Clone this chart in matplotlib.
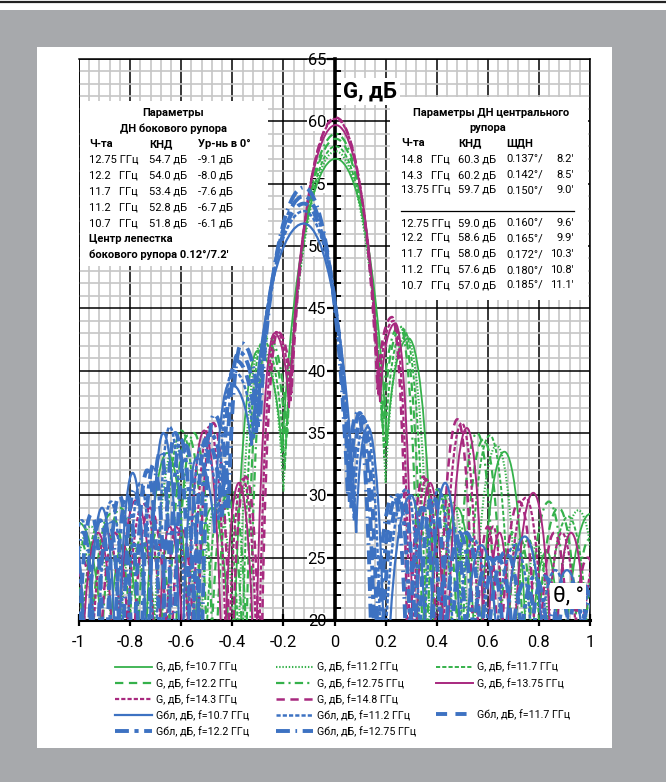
import matplotlib
matplotlib.use("Agg")
import matplotlib.pyplot as plt
from matplotlib.path import Path
from matplotlib.patches import PathPatch, Rectangle
from matplotlib.lines import Line2D
from matplotlib.ticker import MultipleLocator, FuncFormatter

plt.rcParams['font.family'] = ['Roboto', 'DejaVu Sans']
plt.rcParams['axes.unicode_minus'] = False
plt.rcParams['lines.scale_dashes'] = False

# turning points of every curve (null, lobe peak, null, ...), theta in deg, G in dB
# levels of 12 mean the null drops below the bottom of the chart
g107_t = [-1.1, -1.0, -0.89, -0.83, -0.75, -0.655, -0.56, -0.48, -0.40, -0.30, -0.205, 0.005,
          0.205, 0.29, 0.40, 0.48, 0.56, 0.665, 0.76, 0.83, 0.89, 1.0, 1.1]
g107_g = [12, 27.8, 12, 26, 12, 33.4, 12, 29, 12, 41.6, 33.4, 57.0,
          34, 42.6, 12, 29.0, 12, 33.5, 12, 25.5, 12, 28.5, 12]
g112_t = [-1.051, -0.955, -0.850, -0.793, -0.717, -0.626, -0.535, -0.459, -0.382, -0.29, -0.20, 0.005,
          0.20, 0.28, 0.382, 0.459, 0.535, 0.635, 0.726, 0.793, 0.850, 0.955, 1.051]
g112_g = [12, 27.5, 12, 26, 12, 34, 12, 29.5, 12, 42.0, 30.3, 57.6,
          31, 42.8, 12, 29.5, 12, 34.0, 12, 26, 12, 28.8, 12]
g117_t = [-1.006, -0.915, -0.814, -0.759, -0.686, -0.599, -0.512, -0.439, -0.366, -0.28, -0.195, 0.005,
          0.195, 0.27, 0.366, 0.439, 0.512, 0.608, 0.695, 0.759, 0.814, 0.915, 1.006]
g117_g = [12, 28, 12, 26.5, 12, 35.2, 12, 30, 12, 42.4, 32, 58.0,
          33, 43.3, 12, 30.0, 12, 34.8, 12, 26.5, 12, 28.3, 12]
g122_t = [-1.123, -1.044, -0.965, -0.877, -0.781, -0.728, -0.658, -0.574, -0.491, -0.421, -0.351, -0.27, -0.19, 0.005,
          0.19, 0.262, 0.351, 0.421, 0.491, 0.583, 0.667, 0.728, 0.781, 0.877, 0.965, 1.044, 1.123]
g122_g = [12, 26, 12, 28.5, 12, 26.5, 12, 34.8, 12, 30, 12, 42.6, 34, 58.6,
          35, 43.5, 12, 30.2, 12, 34.5, 12, 26.5, 12, 29, 12, 26.5, 12]
g1275_t = [-1.074, -0.999, -0.923, -0.839, -0.747, -0.697, -0.629, -0.550, -0.470, -0.403, -0.336, -0.262, -0.185, 0.005,
           0.185, 0.255, 0.336, 0.403, 0.470, 0.558, 0.638, 0.697, 0.747, 0.839, 0.923, 0.999, 1.074]
g1275_g = [12, 26.5, 12, 29, 12, 27, 12, 35, 12, 30.5, 12, 42.8, 35, 59.0,
           36, 43.6, 12, 30.5, 12, 35.0, 12, 27, 12, 29.5, 12, 26.5, 12]
g1375_t = [-1.136, -1.066, -0.996, -0.926, -0.856, -0.778, -0.693, -0.646, -0.584, -0.510, -0.436, -0.374, -0.311,
           -0.235, -0.178, 0.005, 0.178, 0.238, 0.311, 0.374, 0.436, 0.518, 0.591, 0.646, 0.693, 0.778, 0.856,
           0.926, 0.996, 1.066, 1.136]
g1375_g = [12, 25, 12, 27, 12, 29.6, 12, 27.5, 12, 35.2, 12, 31, 12,
           43.0, 37, 59.7, 37.5, 43.8, 12, 31, 12, 35.4, 12, 27, 12, 30.2, 12,
           27, 12, 25, 12]
g143_t = [-1.093, -1.025, -0.958, -0.890, -0.823, -0.748, -0.666, -0.621, -0.561, -0.490, -0.419, -0.359, -0.299,
          -0.228, -0.172, 0.005, 0.172, 0.231, 0.299, 0.359, 0.419, 0.498, 0.569, 0.621, 0.666, 0.748, 0.823,
          0.890, 0.958, 1.025, 1.093]
g143_g = [12, 25, 12, 27, 12, 29.3, 12, 27.5, 12, 35.5, 12, 31.3, 12,
          43.1, 37.5, 60.2, 38, 44.0, 12, 31.3, 12, 35.8, 12, 27.5, 12, 29.8, 12,
          27, 12, 25, 12]
g148_t = [-1.056, -0.991, -0.925, -0.860, -0.795, -0.723, -0.643, -0.600, -0.542, -0.474, -0.405, -0.347, -0.289,
          -0.222, -0.168, 0.005, 0.168, 0.225, 0.289, 0.347, 0.405, 0.481, 0.549, 0.600, 0.643, 0.723, 0.795,
          0.860, 0.925, 0.991, 1.056]
g148_g = [12, 25, 12, 27, 12, 29, 12, 27.5, 12, 35.8, 12, 31.5, 12,
          43.1, 38.2, 60.3, 38.5, 44.3, 12, 31.5, 12, 36.1, 12, 27.5, 12, 29.5, 12,
          27, 12, 25, 12]

# side horn (beam centre at -0.12 deg)
b107_t = [-1.09, -1.03, -0.97, -0.91, -0.85, -0.79, -0.73, -0.67, -0.60, -0.54, -0.47, -0.41, -0.325, -0.12,
          0.085, 0.13, 0.20, 0.30, 0.365, 0.433, 0.50, 0.575, 0.65, 0.745, 0.83, 0.91, 0.99, 1.07, 1.15]
b107_g = [12, 28.3, 12, 29, 12, 31.8, 12, 35, 12, 33, 27, 39, 34, 51.8,
          27, 35.5, 12, 30, 12, 31, 12, 26, 12, 26.7, 12, 24, 12, 23, 12]
b112_t = [-1.047, -0.989, -0.932, -0.875, -0.817, -0.760, -0.703, -0.645, -0.579, -0.521, -0.454, -0.397, -0.316, -0.12,
          0.076, 0.119, 0.186, 0.281, 0.343, 0.408, 0.472, 0.544, 0.616, 0.706, 0.788, 0.864, 0.940, 1.017, 1.093]
b112_g = [12, 28, 12, 29.5, 12, 31, 12, 35.5, 12, 34, 28, 40, 34.5, 52.8,
          28, 36, 12, 30.5, 12, 30.5, 12, 26.5, 12, 26, 12, 24, 12, 23, 12]
b117_t = [-1.007, -0.952, -0.897, -0.842, -0.788, -0.733, -0.678, -0.623, -0.559, -0.504, -0.440, -0.385, -0.307, -0.12,
          0.067, 0.109, 0.173, 0.264, 0.324, 0.386, 0.447, 0.516, 0.584, 0.671, 0.749, 0.822, 0.895, 0.968, 1.041]
b117_g = [12, 28.5, 12, 30, 12, 32, 12, 35, 12, 34.5, 28, 40.8, 35, 53.4,
          29, 36.3, 12, 30, 12, 30, 12, 27, 12, 25.5, 12, 23.5, 12, 23, 12]
b122_t = [-1.076, -1.023, -0.971, -0.918, -0.865, -0.813, -0.760, -0.708, -0.655, -0.602, -0.541, -0.488, -0.427,
          -0.374, -0.300, -0.12, 0.060, 0.099, 0.161, 0.248, 0.305, 0.365, 0.424, 0.490, 0.555, 0.639, 0.713,
          0.783, 0.853, 0.924, 0.994, 1.064, 1.134]
b122_g = [12, 26.5, 12, 28, 12, 30, 12, 32.5, 12, 34.5, 12, 35, 29,
          41.5, 35.5, 54.0, 29.5, 36.6, 12, 30, 12, 29.5, 12, 27, 12, 25, 12,
          23.5, 12, 23, 12, 22, 12]
b1275_t = [-1.035, -0.984, -0.934, -0.884, -0.833, -0.783, -0.733, -0.682, -0.632, -0.582, -0.523, -0.472, -0.414,
           -0.363, -0.292, -0.12, 0.052, 0.090, 0.149, 0.232, 0.287, 0.344, 0.400, 0.463, 0.526, 0.606, 0.677,
           0.744, 0.812, 0.879, 0.946, 1.013, 1.08]
b1275_g = [12, 27, 12, 28, 12, 30.5, 12, 33.5, 12, 34, 12, 36.5, 29,
           42.2, 36, 54.7, 30, 36.6, 12, 30, 12, 29, 12, 27.5, 12, 25, 12,
           23, 12, 22, 12, 22, 12]

# table texts
side_freq = ['12.75', '12.2', '11.7', '11.2', '10.7']
side_knd = ['54.7', '54.0', '53.4', '52.8', '51.8']
side_lvl0 = ['-9.1', '-8.0', '-7.6', '-6.7', '-6.1']
cent_freq = ['14.8', '14.3', '13.75', '12.75', '12.2', '11.7', '11.2', '10.7']
cent_knd = ['60.3', '60.2', '59.7', '59.0', '58.6', '58.0', '57.6', '57.0']
cent_bw_deg = ['0.137', '0.142', '0.150', '0.160', '0.165', '0.172', '0.180', '0.185']
cent_bw_min = ['8.2', '8.5', '9.0', '9.6', '9.9', '10.3', '10.8', '11.1']

GREEN = '#35b14b'
PURPLE = '#a8297f'
BLUE = '#3d72c2'

series = [
    ('G, дБ, f=10.7 ГГц', g107_t, g107_g, GREEN, 1.3, '-'),
    ('G, дБ, f=11.2 ГГц', g112_t, g112_g, GREEN, 1.5, (0, (1.0, 1.3))),
    ('G, дБ, f=11.7 ГГц', g117_t, g117_g, GREEN, 1.4, (0, (3, 1.5))),
    ('G, дБ, f=12.2 ГГц', g122_t, g122_g, GREEN, 1.6, (0, (6, 4))),
    ('G, дБ, f=12.75 ГГц', g1275_t, g1275_g, GREEN, 1.6, (0, (6, 3, 1.5, 3))),
    ('G, дБ, f=13.75 ГГц', g1375_t, g1375_g, PURPLE, 1.4, '-'),
    ('G, дБ, f=14.3 ГГц', g143_t, g143_g, PURPLE, 1.6, (0, (3, 1.5))),
    ('G, дБ, f=14.8 ГГц', g148_t, g148_g, PURPLE, 1.8, (0, (6, 4))),
    ('Gбл, дБ, f=10.7 ГГц', b107_t, b107_g, BLUE, 1.6, '-'),
    ('Gбл, дБ, f=11.2 ГГц', b112_t, b112_g, BLUE, 1.8, (0, (3, 1.5))),
    ('Gбл, дБ, f=11.7 ГГц', b117_t, b117_g, BLUE, 2.8, (0, (8, 6))),
    ('Gбл, дБ, f=12.2 ГГц', b122_t, b122_g, BLUE, 2.8, (0, (10, 4, 3, 4))),
    ('Gбл, дБ, f=12.75 ГГц', b1275_t, b1275_g, BLUE, 2.8, (0, (10, 4, 1.2, 4))),
]


def lobe_path(th, g):
    # smooth arches between the turning points: steep at the nulls, flat at the peaks
    verts = [(th[0], g[0])]
    codes = [Path.MOVETO]
    for i in range(len(th) - 1):
        x0, y0, x1, y1 = th[i], g[i], th[i + 1], g[i + 1]
        dx = x1 - x0
        if y1 > y0:
            c1 = (x0 + 0.2 * dx, y0 + 0.68 * (y1 - y0))
            c2 = (x1 - 0.4 * dx, y1)
        else:
            c1 = (x0 + 0.4 * dx, y0)
            c2 = (x1 - 0.2 * dx, y1 + 0.68 * (y0 - y1))
        verts += [c1, c2, (x1, y1)]
        codes += [Path.CURVE4] * 3
    return Path(verts, codes)


fig = plt.figure(figsize=(6.66, 7.82), dpi=100, facecolor='#a7a9ac')
fig.patches.append(Rectangle((0, 1 - 10 / 782), 1, 10 / 782, transform=fig.transFigure,
                             facecolor='white', edgecolor='none', zorder=-10))
fig.lines.append(Line2D([0, 1], [1 - 2 / 782, 1 - 2 / 782], transform=fig.transFigure, color='#222222',
                        lw=1.6, zorder=-9))
fig.patches.append(Rectangle((37 / 666, 1 - 748 / 782), 575 / 666, 701 / 782, transform=fig.transFigure,
                             facecolor='white', edgecolor='none', zorder=-10))

ax = fig.add_axes([79 / 666, 1 - 620 / 782, 511 / 666, 561 / 782])
ax.set_facecolor('white')
ax.set_xlim(-1, 1)
ax.set_ylim(20, 65)
ax.xaxis.set_major_locator(MultipleLocator(0.2))
ax.xaxis.set_minor_locator(MultipleLocator(0.04))
ax.yaxis.set_major_locator(MultipleLocator(5))
ax.yaxis.set_minor_locator(MultipleLocator(1))
ax.grid(which='minor', color='#c6c6c6', lw=1.2)
ax.grid(which='major', color='black', lw=1.1)
ax.set_axisbelow(True)

ax.spines['left'].set_position(('data', 0))
ax.spines['left'].set_linewidth(2.6)
ax.spines['bottom'].set_linewidth(2.2)
ax.spines['top'].set_linewidth(1.1)
ax.spines['right'].set_linewidth(1.1)
ax.axvline(-1, color='black', lw=1.1, zorder=1)

ax.xaxis.set_major_formatter(FuncFormatter(lambda v, p: f"{v:.1f}".rstrip('0').rstrip('.') if abs(v) > 1e-9 else '0'))
ax.tick_params(axis='x', which='major', direction='inout', length=9, width=1.6, labelsize=11.8, pad=6)
ax.tick_params(axis='x', which='minor', length=0)
ax.tick_params(axis='y', which='major', direction='out', length=6, width=1.6, labelsize=11.8, pad=0)
ax.tick_params(axis='y', which='minor', direction='in', length=4, width=1.4)
for lbl in ax.get_yticklabels():
    lbl.set_bbox(dict(facecolor='white', edgecolor='none', pad=0.6))

for label, th, g, col, lw, ls in series:
    ax.add_patch(PathPatch(lobe_path(th, g), fill=False, edgecolor=col, lw=lw, linestyle=ls, zorder=3))

ax.text(0.035, 62.4, 'G, дБ', fontsize=16, fontweight='bold', va='center', ha='left', zorder=8,
        bbox=dict(facecolor='white', edgecolor='none', pad=2))
ax.text(0.915, 21.9, 'θ, °', fontsize=16, va='center', ha='center', zorder=8,
        bbox=dict(facecolor='white', edgecolor='none', pad=2))


def fy(py):
    return (620 - py) / 561


def fx(px):
    return (px - 79) / 511


def freq_txt(f):
    return f + (' ' if len(f) > 4 else '   ') + 'ГГц'


tk = dict(transform=ax.transAxes, fontsize=8.0, va='center', zorder=7)

# side horn table
ax.add_patch(Rectangle((fx(80), fy(266)), fx(268) - fx(80), fy(101) - fy(266), transform=ax.transAxes,
                       facecolor='white', edgecolor='none', zorder=6))
rows = [113, 128.5, 144, 160, 176, 192, 207.5, 223, 239, 255]
ax.text(fx(173), fy(rows[0]), 'Параметры', ha='center', fontweight='bold', **tk)
ax.text(fx(173), fy(rows[1]), 'ДН бокового рупора', ha='center', fontweight='bold', **tk)
ax.text(fx(89), fy(rows[2]), 'Ч-та', fontweight='bold', **tk)
ax.text(fx(149), fy(rows[2]), 'КНД', fontweight='bold', **tk)
ax.text(fx(198), fy(rows[2]), 'Ур-нь в 0°', fontweight='bold', **tk)
for i in range(len(side_freq)):
    y = fy(rows[3 + i])
    ax.text(fx(89), y, freq_txt(side_freq[i]), **tk)
    ax.text(fx(149), y, side_knd[i] + ' дБ', **tk)
    ax.text(fx(198), y, side_lvl0[i] + ' дБ', **tk)
ax.text(fx(89), fy(rows[8]), 'Центр лепестка', fontweight='bold', **tk)
ax.text(fx(89), fy(rows[9]), "бокового рупора 0.12°/7.2'", fontweight='bold', **tk)

# central horn table
ax.add_patch(Rectangle((fx(390), fy(300)), fx(588) - fx(390), fy(97) - fy(300), transform=ax.transAxes,
                       facecolor='white', edgecolor='none', zorder=6))
crow = [159, 175, 190, 223, 238, 254, 270, 285]
ax.text(fx(491), fy(113), 'Параметры ДН центрального', ha='center', fontweight='bold', **tk)
ax.text(fx(488), fy(128), 'рупора', ha='center', fontweight='bold', **tk)
ax.text(fx(401), fy(143), 'Ч-та', fontweight='bold', **tk)
ax.text(fx(458), fy(143), 'КНД', fontweight='bold', **tk)
ax.text(fx(506), fy(143), 'ШДН', fontweight='bold', **tk)
for i in range(len(cent_freq)):
    y = fy(crow[i])
    ax.text(fx(401), y, freq_txt(cent_freq[i]), **tk)
    ax.text(fx(458), y, cent_knd[i] + ' дБ', **tk)
    ax.text(fx(506), y, cent_bw_deg[i] + '°/', **tk)
    ax.text(fx(574), y, cent_bw_min[i] + "'", ha='right', **tk)
ax.add_line(Line2D([fx(401), fx(574)], [fy(211), fy(211)], transform=ax.transAxes, color='black', lw=0.9, zorder=7))

# legend, three columns placed separately
handles = [Line2D([], [], color=c, lw=lw, linestyle=ls) for _, _, _, c, lw, ls in series]
labels = [s[0] for s in series]
blank = Line2D([], [], color='none')
cols = [[0, 3, 6, 8, 11], [1, 4, 7, 9, 12], [2, 5, None, 10]]
col_x = [115, 276, 436]
for cx, idx in zip(col_x, cols):
    hs = [handles[i] if i is not None else blank for i in idx]
    ls_ = [labels[i] if i is not None else '' for i in idx]
    fig.legend(hs, ls_, loc='upper left', bbox_to_anchor=(cx / 666, 1 - 662 / 782), frameon=False,
               fontsize=7.7, handlelength=3.5, handletextpad=0.3, labelspacing=0.5,
               borderpad=0, borderaxespad=0)

fig.savefig('out.png', dpi=100, facecolor=fig.get_facecolor())
